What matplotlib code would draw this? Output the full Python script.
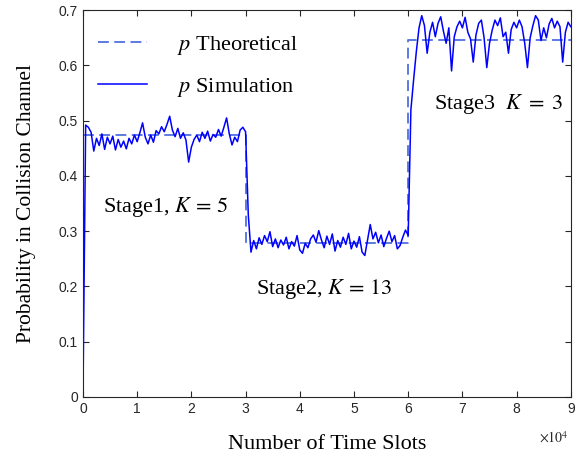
import matplotlib
matplotlib.use("Agg")
import matplotlib.pyplot as plt
import numpy as np

# simulated collision probability, read every 500 time slots
stage1_sim = [0.0, 0.492, 0.488, 0.479, 0.445, 0.468, 0.455, 0.476, 0.448, 0.470,
              0.458, 0.472, 0.447, 0.466, 0.452, 0.463, 0.449, 0.468, 0.458, 0.474,
              0.462, 0.478, 0.496, 0.470, 0.458, 0.474, 0.461, 0.482, 0.476, 0.489,
              0.480, 0.493, 0.508, 0.483, 0.471, 0.486, 0.468, 0.478, 0.465, 0.425,
              0.452, 0.466, 0.474, 0.462, 0.479, 0.468, 0.481, 0.463, 0.475, 0.470,
              0.484, 0.472, 0.488, 0.505, 0.476, 0.456, 0.470, 0.462, 0.483, 0.488]
stage2_sim = [0.480, 0.330, 0.262, 0.283, 0.268, 0.288, 0.276, 0.292, 0.281, 0.299,
              0.272, 0.286, 0.270, 0.284, 0.275, 0.289, 0.268, 0.281, 0.273, 0.292,
              0.266, 0.260, 0.278, 0.270, 0.286, 0.293, 0.280, 0.301, 0.284, 0.270,
              0.291, 0.276, 0.295, 0.264, 0.283, 0.271, 0.289, 0.276, 0.296, 0.268,
              0.282, 0.271, 0.290, 0.262, 0.256, 0.284, 0.312, 0.286, 0.298, 0.279,
              0.293, 0.272, 0.287, 0.300, 0.281, 0.292, 0.268, 0.274, 0.289, 0.302]
stage3_sim = [0.292, 0.520, 0.574, 0.625, 0.668, 0.690, 0.672, 0.622, 0.660, 0.678,
              0.652, 0.676, 0.688, 0.662, 0.640, 0.668, 0.590, 0.652, 0.670, 0.680,
              0.668, 0.687, 0.660, 0.648, 0.606, 0.655, 0.676, 0.682, 0.650, 0.596,
              0.640, 0.664, 0.682, 0.672, 0.686, 0.652, 0.660, 0.622, 0.665, 0.678,
              0.668, 0.682, 0.670, 0.640, 0.596, 0.650, 0.672, 0.690, 0.682, 0.645,
              0.668, 0.650, 0.675, 0.685, 0.668, 0.680, 0.670, 0.606, 0.660, 0.678,
              0.670]
sim_step = 500

# theoretical values per stage
stage_edges = [0, 30000, 60000, 90000]
stage_p = [0.474, 0.279, 0.646]
stage_labels = [r"Stage1, $K\,=\,5$", r"Stage2, $K\,=\,13$", r"Stage3  $K\;=\;3$"]
label_pos = [(3700, 0.344), (32000, 0.195), (64800, 0.530)]

sim = np.array(stage1_sim + stage2_sim + stage3_sim)
slots = np.arange(len(sim)) * sim_step

theo_x, theo_y = [], []
for i, p in enumerate(stage_p):
    theo_x += [stage_edges[i], stage_edges[i + 1]]
    theo_y += [p, p]

plt.rcParams["mathtext.fontset"] = "stix"
serif = "Liberation Serif"

fig = plt.figure(figsize=(5.76, 4.61), dpi=100)
ax = fig.add_axes([0.144, 0.139, 0.847, 0.839])

ax.plot(theo_x, theo_y, linestyle="--", dashes=(6, 3), color="#4f6fdf", linewidth=1.3,
        label="$p$ Theoretical")
ax.plot(slots, sim, color="#0000ff", linewidth=1.1, label="$p$ Simulation")

for txt, (x, y) in zip(stage_labels, label_pos):
    ax.text(x, y, txt, fontsize=16, family=serif, va="center", ha="left")

ax.set_xlim(0, 90000)
ax.set_ylim(0, 0.7)
ax.set_xticks(np.arange(0, 90001, 10000))
ax.set_xticklabels([str(i) for i in range(10)])
ax.set_yticks(np.arange(0, 0.71, 0.1))
ax.set_yticklabels(["0", "0.1", "0.2", "0.3", "0.4", "0.5", "0.6", "0.7"])
ax.tick_params(direction="in", top=True, right=True, labelsize=10, colors="#262626",
               length=4, width=0.8, labelfontfamily="Liberation Sans")
for s in ax.spines.values():
    s.set_color("#262626")
    s.set_linewidth(0.8)

ax.set_xlabel("Number of Time Slots", fontsize=16, family=serif, labelpad=14)
ax.set_ylabel("Probability in Collision Channel", fontsize=15.5, family=serif, labelpad=16)
fig.text(0.935, 0.04, r"$\times10^{4}$", fontsize=10, color="#262626", family="Liberation Sans")

leg = ax.legend(loc="upper left", bbox_to_anchor=(0.0125, 0.961), borderaxespad=0,
                frameon=False, handlelength=2.2, handletextpad=1.35, labelspacing=0.85,
                prop={"family": serif, "size": 16})

fig.savefig("out.png", dpi=100)
